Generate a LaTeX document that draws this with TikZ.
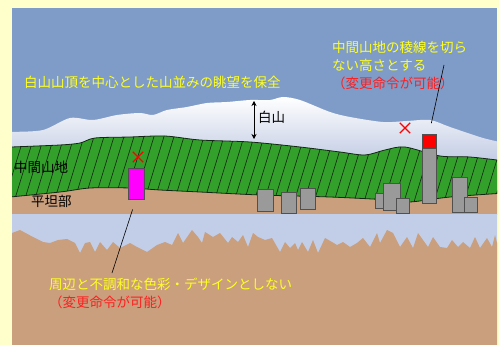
\documentclass[tikz,border=0pt]{standalone}
\usepackage{fontspec}
\newfontfamily\jpfont{Noto Sans CJK JP}
\usepackage{xcolor}
\definecolor{scnOuter}{HTML}{FFFFCC}
\definecolor{scnSky}{HTML}{7F9CC8}
\definecolor{scnSnowLow}{HTML}{B9C4E0}
\definecolor{scnHill}{HTML}{33A02B}
\definecolor{scnHillLine}{HTML}{142614}
\definecolor{scnGround}{HTML}{C99F7E}
\definecolor{scnBand}{HTML}{C2CEE8}
\definecolor{scnBldg}{HTML}{9A9A9A}
\definecolor{scnBldgLine}{HTML}{505050}
\definecolor{scnShop}{HTML}{FF00FF}
\definecolor{scnCap}{HTML}{FF0000}
\definecolor{noteYellow}{HTML}{FFFF22}
\definecolor{noteRed}{HTML}{FF1E1E}
\usepackage{tikz}
\usetikzlibrary{arrows.meta,shapes.misc}
\tikzset{
    note/.style={
        font=\jpfont\fontsize{13.5}{18}\selectfont,
        text=noteYellow,
        inner sep=0pt,
        align=left
    },
    plain/.style={
        font=\jpfont\fontsize{13.5}{18}\selectfont,
        text=black,
        inner sep=0pt
    },
    bldg/.style={
        draw=scnBldgLine,
        fill=scnBldg,
        line width=0.8pt
    },
    box/.style={
        bldg,
        rectangle,
        inner sep=0pt,
        outer sep=0pt,
        anchor=north west
    },
    ban/.style={
        cross out,
        draw=scnCap,
        line width=1.4pt,
        minimum size=9pt,
        inner sep=0pt
    },
    leader/.style={
        draw=black,
        line width=0.6pt
    },
    hatch/.style={
        draw=scnHillLine,
        line width=0.6pt
    }
}
% outline of the middle hills (top edge, then bottom edge)
\newcommand{\hillpath}{plot[smooth] coordinates {(0,148) (12,147) (60,145) (80,143) (95,138) (130,137) (165,136) (200,140) (250,142) (300,147) (340,152) (365,155) (385,150) (405,147) (440,156) (470,157) (505,161)}
    -- plot[smooth] coordinates {(505,193) (450,197) (410,202) (390,200) (330,197) (260,195) (200,192) (160,190) (130,188) (90,188) (60,192) (0,198)} -- cycle}

\begin{document}
\begin{tikzpicture}[x=1pt,y=-1pt]
    \useasboundingbox (0,0) rectangle (499,345);
    \fill[scnOuter] (0,0) rectangle (499,345);

    \begin{scope}
        \clip (12,8) rectangle (497,345);
        % Sky
        \fill[scnSky] (12,8) rectangle (497,345);
        % Hakusan snow cap
        \shade[top color=white, bottom color=scnSnowLow] plot[smooth] coordinates {(5,133) (12,132) (43,130) (70,118) (93,120) (117,115) (140,113) (153,115) (167,110) (187,107) (207,103) (227,102) (250,100) (270,100) (283,97) (300,100) (330,112) (350,117) (383,122) (407,121) (430,120) (450,127) (483,138) (505,143)} -- (505,170) -- (5,170) -- cycle;
        % Flat ground and water band
        \fill[scnGround] (0,170) rectangle (505,215);
        \fill[scnBand] (0,214) rectangle (505,260);
        \fill[scnGround] plot coordinates {(5,233) (12,233) (20,230) (33,237) (43,242) (50,243) (58,240) (67,239) (75,243) (80,253) (85,243) (90,242) (95,252) (100,242) (107,250) (113,242) (120,248) (130,243) (137,247) (147,252) (157,245) (165,242) (172,245) (178,233) (183,243) (192,230) (198,237) (202,243) (205,232) (213,237) (220,233) (228,243) (232,237) (238,242) (243,235) (248,247) (253,233) (258,237) (265,240) (272,238) (280,252) (285,242) (290,248) (295,243) (298,250) (302,242) (308,252) (313,240) (318,253) (325,238) (332,242) (337,245) (343,242) (350,247) (357,243) (363,238) (370,247) (377,233) (380,243) (387,230) (393,233) (400,247) (407,237) (413,248) (418,233) (423,240) (428,247) (433,237) (440,247) (447,248) (452,240) (458,247) (463,242) (470,248) (475,237) (480,248) (487,238) (492,247) (495,235) (498,247) (505,247)} -- (505,350) -- (5,350) -- cycle;
        % Middle hills with hatching
        \fill[scnHill] \hillpath;
        \begin{scope}
            \clip \hillpath;
            \foreach \x in {-40,-30,...,510}
                \draw[hatch] (\x,215) -- ++(26,-85);
        \end{scope}
        \draw[scnHillLine, line width=0.8pt] \hillpath;
    \end{scope}

    % Town buildings
    \foreach \xa/\ya/\xb/\yb in {257/189/273/211, 281/192/296/213, 300/188/315/209, 375/193/384/208, 383/183/400/210, 396/198/409/213, 452/177/467/212, 464/197/477/212}
        \draw[bldg] (\xa,\ya) rectangle (\xb,\yb);

    % Tall tower and loud-coloured shop
    \node[box, minimum width=14, minimum height=69] (tower) at (422,134) {};
    \node[box, fill=scnCap, minimum width=14, minimum height=14] (towerCap) at (422,134) {};
    \node[box, fill=scnShop, minimum width=16, minimum height=31] (shop) at (128,168) {};

    \node[ban] (banShop) at (138,157) {};
    \node[ban] (banRidge) at (405,128) {};

    % Height of Hakusan
    \coordinate (peakTop) at (254,101);
    \coordinate (peakBase) at (254,139);
    \draw[{Stealth[length=5pt,width=5pt]}-{Stealth[length=5pt,width=5pt]}, line width=0.6pt] (peakTop) -- (peakBase);
    \node[plain, anchor=west] (hakusan) at (258,117) {白山};

    % Labels
    \node[note, anchor=west] (view) at (24,82) {白山山頂を中心とした山並みの眺望を保全};
    \node[plain, anchor=west] (midHills) at (14,167) {中間山地};
    \node[plain, anchor=west] (flat) at (31,201) {平坦部};
    \node[note, anchor=north west] (ridgeNote) at (332,41) {中間山地の稜線を切ら\\ない高さとする\\{\color{noteRed}（変更命令が可能）}};
    \node[note, anchor=north west] (shopNote) at (49,278) {周辺と不調和な色彩・デザインとしない\\{\color{noteRed}（変更命令が可能）}};

    % Leaders
    \coordinate (towerTip) at (444,65);
    \coordinate (shopTip) at (112,273);
    \draw[leader, shorten <=11pt] (tower.north) -- (towerTip);
    \draw[leader, shorten <=11pt] (shop.south) -- (shopTip);
\end{tikzpicture}
\end{document}
